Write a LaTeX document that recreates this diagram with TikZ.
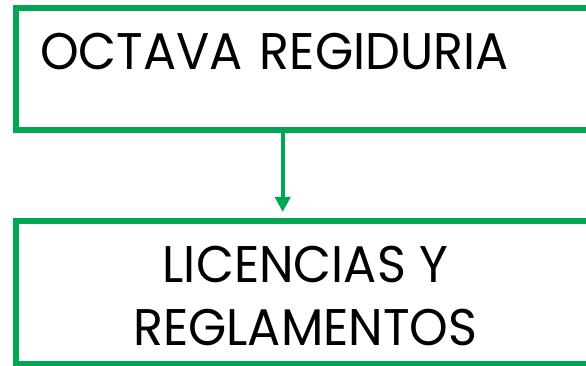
\documentclass[tikz,border=0pt]{standalone}
\usepackage{fontspec}
\setmainfont{Poppins}[FakeStretch=0.955]
\usetikzlibrary{arrows.meta,positioning}
\definecolor{regreen}{RGB}{0,166,81}

\begin{document}
\begin{tikzpicture}[x=1pt,y=-1pt,
  box/.style={rectangle,draw=regreen,line width=6pt,minimum width=579.5pt,
              inner sep=0pt,font=\fontsize{51.5}{63}\selectfont},
  arrow/.style={-{Triangle[length=15pt,width=15pt]},draw=regreen,line width=4pt}]
\useasboundingbox (0,0) rectangle (586,366);
\clip (0,0) rectangle (586,366);

\node[box,minimum height=122.5pt,text width=530.5pt,align=left,
      text height=36pt,text depth=36pt] (reg) at (305.25,69.25) {OCTAVA REGIDURIA};
\node[box,minimum height=143.5pt,align=center,text height=105.5pt,text depth=0pt]
  (lic) at (305.25,292.25) {LICENCIAS Y\\REGLAMENTOS};

\coordinate (drop) at (282.7,0);
\draw[arrow,shorten >=5.5pt] (reg.south -| drop) -- (lic.north -| drop);
\end{tikzpicture}
\end{document}
